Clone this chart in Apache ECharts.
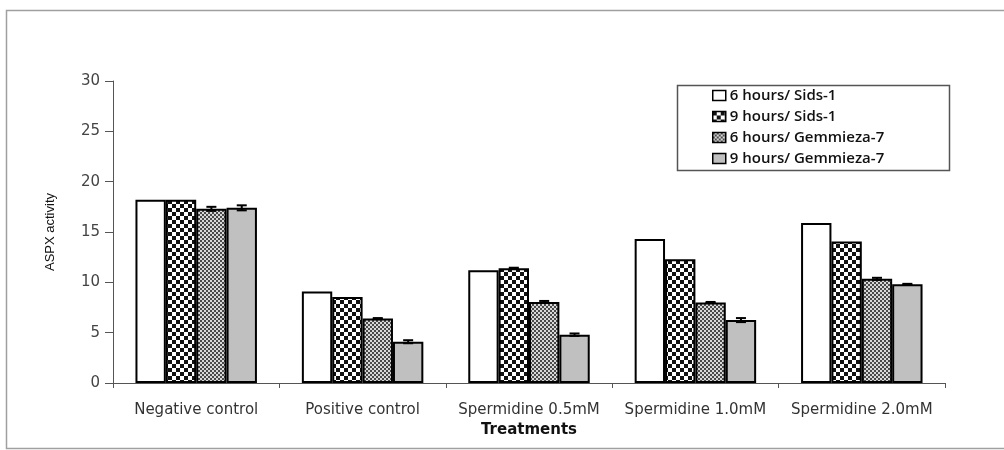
<!DOCTYPE html>
<html><head><meta charset="utf-8">
<script src="https://cdn.jsdelivr.net/npm/echarts@6/dist/echarts.min.js"></script>
<style>html,body{margin:0;padding:0;background:#fff}#c{width:1004px;height:450px}</style>
</head><body><div id="c"></div>
<script>
const categories = ['Negative control','Positive control','Spermidine 0.5mM','Spermidine 1.0mM','Spermidine 2.0mM'];
const seriesNames = ['6 hours/ Sids-1','9 hours/ Sids-1','6 hours/ Gemmieza-7','9 hours/ Gemmieza-7'];
const sids6 = [18.2, 9.1, 11.2, 14.3, 15.9];
const sids9 = [18.2, 8.55, 11.4, 12.3, 14.05];
const gem6 = [17.3, 6.4, 8.05, 8.0, 10.35];
const gem9 = [17.4, 4.1, 4.8, 6.25, 9.8];
const errSids6 = [0, 0, 0, 0, 0];
const errSids9 = [0, 0, 0.05, 0, 0];
const errGem6 = [0.2, 0.05, 0.1, 0.05, 0.1];
const errGem9 = [0.25, 0.15, 0.12, 0.2, 0.05];
const yTicks = [0, 5, 10, 15, 20, 25, 30];

function checker(cell, a, b) {
  const cv = document.createElement('canvas');
  cv.width = cell * 2; cv.height = cell * 2;
  const ctx = cv.getContext('2d');
  ctx.fillStyle = b; ctx.fillRect(0, 0, cell * 2, cell * 2);
  ctx.fillStyle = a;
  ctx.fillRect(0, 0, cell, cell);
  ctx.fillRect(cell, cell, cell, cell);
  return cv;
}
const fills = [
  '#ffffff',
  { image: checker(4, '#111111', '#ffffff'), repeat: 'repeat' },
  { image: checker(2, '#4a4a4a', '#d8d8d8'), repeat: 'repeat' },
  '#c0c0c0'
];
const values = [sids6, sids9, gem6, gem9];
const errors = [errSids6, errSids9, errGem6, errGem9];
const gapRatio = 0.27;

const barSeries = values.map((v, i) => ({
  name: seriesNames[i],
  type: 'bar',
  data: v,
  barGap: '0%',
  barCategoryGap: (gapRatio * 100) + '%',
  itemStyle: { color: fills[i], borderColor: '#000', borderWidth: 2 },
  emphasis: { disabled: true }
}));

const errData = [];
values.forEach((v, s) => v.forEach((val, c) => { if (errors[s][c] > 0) errData.push([c, val, errors[s][c], s]); }));

const errSeries = {
  type: 'custom',
  name: 'err',
  data: errData,
  z: 10,
  renderItem: function (params, api) {
    const c = api.value(0), val = api.value(1), e = api.value(2), s = api.value(3);
    const band = api.size([1, 0])[0];
    const bw = band * (1 - gapRatio) / 4;
    const base = api.coord([c, val]);
    const x = base[0] + (s - 1.5) * bw;
    const yt = api.coord([c, val + e])[1];
    const yb = api.coord([c, val - e])[1];
    const cap = 5;
    const st = { stroke: '#000', lineWidth: 2 };
    return { type: 'group', children: [
      { type: 'line', shape: { x1: x, y1: yt, x2: x, y2: yb }, style: st },
      { type: 'line', shape: { x1: x - cap, y1: yt, x2: x + cap, y2: yt }, style: st },
      { type: 'line', shape: { x1: x - cap, y1: yb, x2: x + cap, y2: yb }, style: st }
    ]};
  }
};

const chart = echarts.init(document.getElementById('c'), null, { renderer: 'canvas' });
chart.setOption({
  animation: false,
  backgroundColor: '#fff',
  grid: { left: 113, right: 59, top: 81, bottom: 67 },
  graphic: [
    { type: 'rect', shape: { x: 6.5, y: 10.5, width: 1100, height: 438 }, style: { fill: 'none', stroke: '#a0a0a0', lineWidth: 1.5 }, z: -10 },
    { type: 'rect', shape: { x: 677.5, y: 85.5, width: 272, height: 85 }, style: { fill: '#fff', stroke: '#555', lineWidth: 1.5 }, z: 1 }
  ],
  legend: {
    data: seriesNames,
    orient: 'vertical',
    left: 712,
    top: 88,
    icon: 'rect',
    itemWidth: 13,
    itemHeight: 10,
    itemGap: 6,
    padding: 0,
    z: 5,
    textStyle: { fontFamily: 'Open Sans', fontSize: 15, fontWeight: 600, color: '#111', lineHeight: 14, padding: [0, 0, 0, -1] },
    itemStyle: { borderColor: '#000', borderWidth: 1.5 }
  },
  xAxis: {
    type: 'category',
    data: categories,
    name: 'Treatments',
    nameLocation: 'middle',
    nameGap: 36,
    nameTextStyle: { fontFamily: 'DejaVu Sans', fontSize: 15, fontWeight: 'bold', color: '#111' },
    axisLine: { lineStyle: { color: '#555', width: 1 } },
    axisTick: { show: true, length: 5, lineStyle: { color: '#555' } },
    axisLabel: { margin: 20, fontFamily: 'DejaVu Sans', fontSize: 15, color: '#333', interval: 0 }
  },
  yAxis: {
    type: 'value',
    min: yTicks[0],
    max: yTicks[yTicks.length - 1],
    interval: yTicks[1] - yTicks[0],
    name: 'ASPX activity',
    nameLocation: 'middle',
    nameGap: 56,
    nameRotate: 90,
    nameTextStyle: { fontFamily: 'Liberation Sans', fontSize: 13, color: '#111' },
    axisLine: { show: true, lineStyle: { color: '#555', width: 1 } },
    axisTick: { show: true, length: 8, lineStyle: { color: '#555' } },
    splitLine: { show: false },
    axisLabel: { margin: 13, fontFamily: 'DejaVu Sans', fontSize: 15, color: '#444' }
  },
  series: barSeries.concat([errSeries])
});
</script></body></html>
